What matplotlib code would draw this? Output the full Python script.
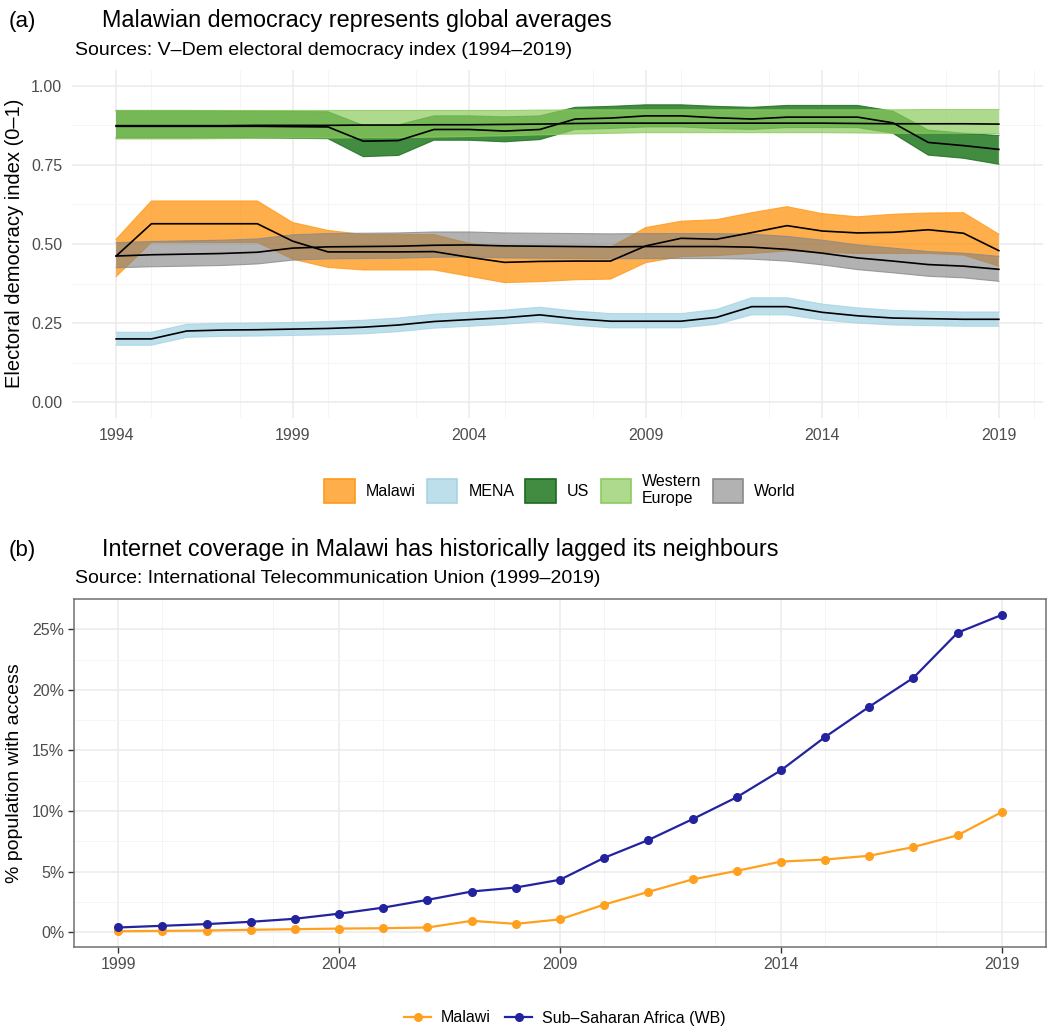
import matplotlib.pyplot as plt
from matplotlib.patches import Patch
from matplotlib.lines import Line2D
from matplotlib.ticker import MultipleLocator, FuncFormatter
from matplotlib.colors import to_rgba

plt.rcParams['font.family'] = ['Liberation Sans', 'DejaVu Sans']

# V-Dem electoral democracy index, mean and interval
years = list(range(1994, 2020))

malawi_mean = [0.462, 0.564, 0.564, 0.564, 0.564, 0.509, 0.475, 0.475, 0.475, 0.476, 0.458, 0.442, 0.445,
               0.446, 0.446, 0.494, 0.518, 0.515, 0.536, 0.558, 0.541, 0.535, 0.537, 0.545, 0.534, 0.479]
malawi_low = [0.397, 0.505, 0.505, 0.505, 0.505, 0.452, 0.426, 0.418, 0.418, 0.418, 0.398, 0.378, 0.381,
              0.387, 0.389, 0.441, 0.460, 0.463, 0.470, 0.478, 0.474, 0.470, 0.470, 0.470, 0.465, 0.430]
malawi_high = [0.515, 0.636, 0.636, 0.636, 0.636, 0.568, 0.543, 0.530, 0.530, 0.530, 0.502, 0.490, 0.490,
               0.490, 0.490, 0.552, 0.572, 0.577, 0.599, 0.618, 0.596, 0.586, 0.594, 0.598, 0.599, 0.531]

mena_mean = [0.200, 0.200, 0.225, 0.228, 0.229, 0.231, 0.233, 0.237, 0.244, 0.255, 0.261, 0.267, 0.276,
             0.264, 0.256, 0.256, 0.256, 0.268, 0.302, 0.302, 0.284, 0.273, 0.266, 0.264, 0.262, 0.262]
mena_low = [0.180, 0.180, 0.205, 0.208, 0.209, 0.211, 0.213, 0.216, 0.223, 0.234, 0.240, 0.246, 0.255,
            0.243, 0.235, 0.235, 0.235, 0.246, 0.276, 0.276, 0.260, 0.250, 0.244, 0.242, 0.240, 0.240]
mena_high = [0.221, 0.221, 0.246, 0.249, 0.250, 0.252, 0.255, 0.259, 0.266, 0.278, 0.284, 0.291, 0.300,
             0.288, 0.280, 0.280, 0.280, 0.293, 0.330, 0.330, 0.310, 0.298, 0.290, 0.287, 0.285, 0.285]

us_mean = [0.872, 0.872, 0.872, 0.872, 0.872, 0.871, 0.870, 0.825, 0.827, 0.862, 0.862, 0.857, 0.862,
           0.895, 0.898, 0.905, 0.905, 0.899, 0.895, 0.901, 0.901, 0.901, 0.883, 0.821, 0.811, 0.799]
us_low = [0.835, 0.835, 0.835, 0.835, 0.835, 0.834, 0.833, 0.776, 0.780, 0.828, 0.828, 0.823, 0.830,
          0.862, 0.865, 0.870, 0.870, 0.865, 0.862, 0.868, 0.868, 0.868, 0.850, 0.781, 0.771, 0.752]
us_high = [0.922, 0.922, 0.922, 0.921, 0.920, 0.919, 0.918, 0.875, 0.877, 0.905, 0.905, 0.902, 0.905,
           0.932, 0.935, 0.940, 0.940, 0.935, 0.932, 0.938, 0.938, 0.938, 0.920, 0.860, 0.850, 0.843]

we_mean = [0.874, 0.874, 0.874, 0.874, 0.875, 0.875, 0.875, 0.876, 0.876, 0.877, 0.877, 0.878, 0.879,
           0.881, 0.882, 0.882, 0.882, 0.882, 0.882, 0.882, 0.882, 0.881, 0.880, 0.880, 0.880, 0.879]
we_low = [0.832, 0.832, 0.832, 0.833, 0.834, 0.835, 0.835, 0.836, 0.836, 0.838, 0.840, 0.842, 0.845,
          0.848, 0.850, 0.852, 0.852, 0.852, 0.852, 0.852, 0.852, 0.851, 0.850, 0.850, 0.850, 0.849]
we_high = [0.922, 0.922, 0.922, 0.922, 0.922, 0.922, 0.922, 0.922, 0.922, 0.922, 0.922, 0.922, 0.923,
           0.924, 0.924, 0.924, 0.924, 0.924, 0.924, 0.924, 0.924, 0.924, 0.924, 0.925, 0.925, 0.925]

world_mean = [0.462, 0.466, 0.468, 0.470, 0.474, 0.487, 0.491, 0.492, 0.493, 0.496, 0.497, 0.494, 0.493,
              0.492, 0.491, 0.492, 0.492, 0.492, 0.490, 0.483, 0.471, 0.456, 0.446, 0.435, 0.430, 0.420]
world_low = [0.425, 0.428, 0.430, 0.432, 0.437, 0.449, 0.453, 0.454, 0.455, 0.458, 0.459, 0.456, 0.455,
             0.454, 0.453, 0.454, 0.454, 0.454, 0.452, 0.446, 0.434, 0.419, 0.409, 0.398, 0.393, 0.382]
world_high = [0.504, 0.508, 0.510, 0.512, 0.516, 0.529, 0.533, 0.534, 0.535, 0.538, 0.538, 0.535, 0.534,
              0.533, 0.532, 0.533, 0.533, 0.533, 0.531, 0.524, 0.512, 0.497, 0.487, 0.476, 0.471, 0.461]

# ITU internet coverage, % of population
net_years = list(range(1999, 2020))
malawi_net = [0.08, 0.11, 0.14, 0.20, 0.25, 0.30, 0.33, 0.39, 0.94, 0.69, 1.06, 2.28, 3.33, 4.36, 5.06,
              5.83, 6.00, 6.31, 7.03, 8.00, 9.92]
ssa_net = [0.39, 0.53, 0.67, 0.86, 1.11, 1.53, 2.03, 2.67, 3.36, 3.69, 4.33, 6.14, 7.61, 9.33, 11.14,
           13.36, 16.11, 18.61, 21.00, 24.72, 26.19]

regions = ['Malawi', 'MENA', 'US', 'Western\nEurope', 'World']
series = [
    (malawi_mean, malawi_low, malawi_high, '#FF8C00', 0.70),
    (mena_mean, mena_low, mena_high, '#ADD8E6', 0.80),
    (us_mean, us_low, us_high, '#207820', 0.85),
    (we_mean, we_low, we_high, '#8CCB5E', 0.70),
    (world_mean, world_low, world_high, '#808080', 0.60),
]
edge_cols = ['#FF9A1A', '#A8D3E2', '#1B6B1B', '#8CCB5E', '#8A8A8A']

W, H = 1048, 1028
fig = plt.figure(figsize=(W / 100, H / 100), dpi=100)

grey_txt = '#4D4D4D'
grid_major = '#EBEBEB'
grid_minor = '#F4F4F4'

# ---- panel (a) ----
ax1 = fig.add_axes([72 / W, 1 - 418 / H, (1043 - 72) / W, (418 - 70) / H])
for (m, lo, hi, col, a), ec in zip(series, edge_cols):
    ax1.fill_between(years, lo, hi, facecolor=to_rgba(col, a), linewidth=0, zorder=2)
    ax1.plot(years, lo, color=ec, lw=0.8, alpha=0.8, zorder=2)
    ax1.plot(years, hi, color=ec, lw=0.8, alpha=0.8, zorder=2)
for m, lo, hi, col, a in series:
    ax1.plot(years, m, color='black', lw=1.2, zorder=3)

ax1.set_xlim(1992.75, 2020.25)
ax1.set_ylim(-0.05, 1.05)
ax1.set_xticks([1994, 1999, 2004, 2009, 2014, 2019])
ax1.xaxis.set_minor_locator(MultipleLocator(2.5))
ax1.set_yticks([0, 0.25, 0.5, 0.75, 1.0])
ax1.set_yticklabels(['0.00', '0.25', '0.50', '0.75', '1.00'])
ax1.yaxis.set_minor_locator(MultipleLocator(0.125))
ax1.grid(True, which='major', color=grid_major, lw=1.1, zorder=0)
ax1.grid(True, which='minor', color=grid_minor, lw=0.6, zorder=0)
ax1.tick_params(which='both', length=0, labelsize=11.5, labelcolor=grey_txt, pad=7)
for s in ax1.spines.values():
    s.set_visible(False)

fig.text(15 / W, 1 - 243 / H, 'Electoral democracy index (0–1)', rotation=90,
         ha='center', va='center', fontsize=14.5)
fig.text(9 / W, 1 - 27 / H, '(a)', fontsize=16, va='baseline')
fig.text(102 / W, 1 - 27 / H, 'Malawian democracy represents global averages', fontsize=16.8, va='baseline')
fig.text(75 / W, 1 - 55 / H, 'Sources: V–Dem electoral democracy index (1994–2019)', fontsize=14, va='baseline')

handles = [Patch(facecolor=to_rgba(col, a), edgecolor=ec, linewidth=1.2)
           for (m, lo, hi, col, a), ec in zip(series, edge_cols)]
fig.legend(handles, regions, loc='center', bbox_to_anchor=(560 / W, 1 - 490 / H), ncol=5,
           frameon=False, fontsize=11.5, handlelength=1.9, handleheight=2.0,
           handletextpad=0.7, columnspacing=0.7)

# ---- panel (b) ----
ax2 = fig.add_axes([74 / W, 1 - 947 / H, (1046 - 74) / W, (947 - 599) / H])
ax2.plot(net_years, malawi_net, color='#FFA01E', lw=1.6, marker='o', ms=5.5, zorder=3)
ax2.plot(net_years, ssa_net, color='#2323A0', lw=1.6, marker='o', ms=5.5, zorder=3)
ax2.set_xlim(1998, 2020)
ax2.set_ylim(-1.22, 27.5)
ax2.set_xticks([1999, 2004, 2009, 2014, 2019])
ax2.xaxis.set_minor_locator(MultipleLocator(2.5))
ax2.set_yticks([0, 5, 10, 15, 20, 25])
ax2.yaxis.set_minor_locator(MultipleLocator(2.5))
ax2.yaxis.set_major_formatter(FuncFormatter(lambda v, p: f'{v:.0f}%'))
ax2.grid(True, which='major', color=grid_major, lw=1.1, zorder=0)
ax2.grid(True, which='minor', color=grid_minor, lw=0.6, zorder=0)
ax2.tick_params(which='major', length=4, width=1, color='#333333', labelsize=11.5,
                labelcolor=grey_txt, pad=3)
ax2.tick_params(which='minor', length=0)
for s in ax2.spines.values():
    s.set_color('#707070')
    s.set_linewidth(1.1)

fig.text(15 / W, 1 - 773 / H, '% population with access', rotation=90,
         ha='center', va='center', fontsize=14)
fig.text(9 / W, 1 - 556 / H, '(b)', fontsize=16, va='baseline')
fig.text(102 / W, 1 - 556 / H, 'Internet coverage in Malawi has historically lagged its neighbours',
         fontsize=16.8, va='baseline')
fig.text(75 / W, 1 - 583 / H, 'Source: International Telecommunication Union (1999–2019)',
         fontsize=14, va='baseline')

net_handles = [Line2D([], [], color='#FFA01E', lw=1.6, marker='o', ms=5.5),
               Line2D([], [], color='#2323A0', lw=1.6, marker='o', ms=5.5)]
fig.legend(net_handles, ['Malawi', 'Sub–Saharan Africa (WB)'], loc='center',
           bbox_to_anchor=(565 / W, 1 - 1018 / H), ncol=2, frameon=False, fontsize=11.5,
           handlelength=1.7, handletextpad=0.6, columnspacing=0.9)

fig.savefig('out.png', dpi=100)
